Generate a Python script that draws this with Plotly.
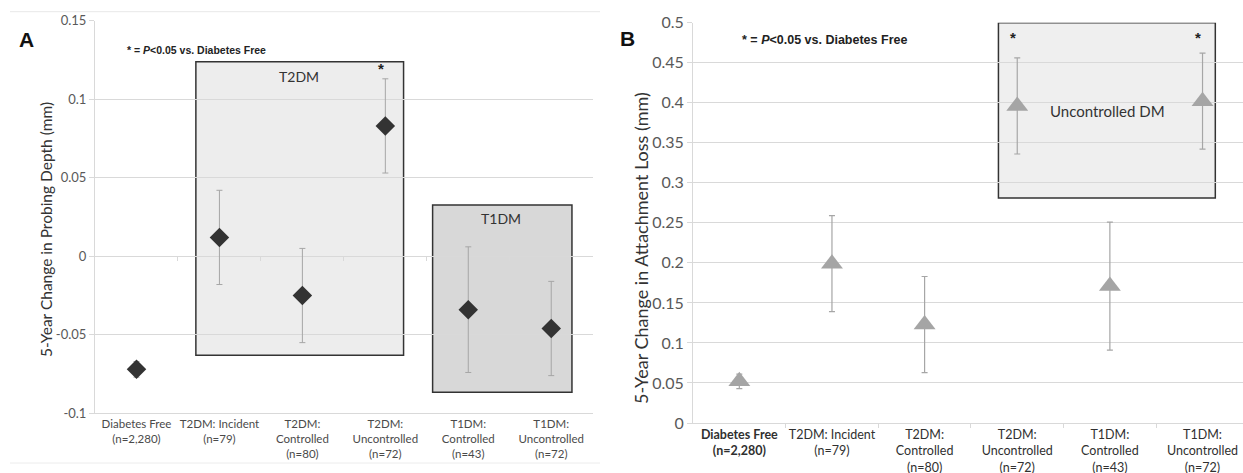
import plotly.graph_objects as go

# ---------------- data ----------------
categories = ["Diabetes Free<br>(n=2,280)", "T2DM: Incident<br>(n=79)",
              "T2DM:<br>Controlled<br>(n=80)", "T2DM:<br>Uncontrolled<br>(n=72)",
              "T1DM:<br>Controlled<br>(n=43)", "T1DM:<br>Uncontrolled<br>(n=72)"]
x_idx = list(range(len(categories)))

pd_change = [-0.072, 0.012, -0.025, 0.083, -0.034, -0.046]
pd_err = [0.005, 0.030, 0.030, 0.030, 0.040, 0.030]

cal_change = [0.052, 0.199, 0.123, 0.396, 0.171, 0.402]
cal_err = [0.009, 0.060, 0.060, 0.060, 0.080, 0.060]

a_yticks = [-0.1, -0.05, 0, 0.05, 0.1, 0.15]
a_yticktext = ["-0.1", "-0.05", "0", "0.05", "0.1", "0.15"]
b_yticks = [0, 0.05, 0.1, 0.15, 0.2, 0.25, 0.3, 0.35, 0.4, 0.45, 0.5]
b_yticktext = ["0", "0.05", "0.1", "0.15", "0.2", "0.25", "0.3", "0.35", "0.4", "0.45", "0.5"]
boundaries = [0.5, 1.5, 2.5, 3.5, 4.5]

a_sig = [3]
b_sig = [3, 5]

W, H = 1243, 473
GRID = "#d9d9d9"
TICKC = "#595959"

fig = go.Figure()

fig.add_trace(go.Scatter(
    x=x_idx, y=pd_change, mode="markers", xaxis="x", yaxis="y",
    marker=dict(symbol="diamond", size=15, color="#333333"),
    error_y=dict(type="data", array=pd_err, color="#a6a6a6", thickness=1, width=3),
    showlegend=False, hoverinfo="skip"))

fig.add_trace(go.Scatter(
    x=x_idx, y=cal_change, mode="markers", xaxis="x2", yaxis="y2",
    marker=dict(symbol="triangle-up", size=19, color="#a5a5a5"),
    error_y=dict(type="data", array=cal_err, color="#a6a6a6", thickness=1.2, width=3),
    showlegend=False, hoverinfo="skip"))

fig.add_trace(go.Scatter(x=[], y=[], xaxis="x3", yaxis="y", showlegend=False, hoverinfo="skip"))
fig.add_trace(go.Scatter(x=[], y=[], xaxis="x4", yaxis="y2", showlegend=False, hoverinfo="skip"))

a_xdom = [95 / W, 592.7 / W]
a_ydom = [1 - 413.3 / H, 1 - 20.7 / H]
b_xdom = [693 / W, 1.0]
b_ydom = [1 - 423 / H, 1 - 22.7 / H]
a_yrange = [-0.1, 0.15]
b_xmax = (W - 739) / 92.7
zero_pos = a_ydom[0] + (0 - a_yrange[0]) / (a_yrange[1] - a_yrange[0]) * (a_ydom[1] - a_ydom[0])

FONT = "Lato, Open Sans, sans-serif"
tickfont_cat_a = dict(family=FONT, size=11.5, color="#4a4a4a")
tickfont_cat_b = dict(family=FONT, size=12.5, color="#303030")

fig.update_layout(
    template="none",
    width=W, height=H, margin=dict(l=0, r=0, t=0, b=0, autoexpand=False),
    paper_bgcolor="white", plot_bgcolor="rgba(0,0,0,0)",
    xaxis=dict(domain=a_xdom, range=[-0.5, 5.5], tickvals=x_idx, ticktext=categories,
               showgrid=False, zeroline=False, showline=True, linecolor=GRID, linewidth=1,
               ticks="", tickfont=tickfont_cat_a, anchor="y", fixedrange=True, automargin=False),
    yaxis=dict(domain=a_ydom, range=a_yrange, tickvals=a_yticks, ticktext=a_yticktext,
               showgrid=True, gridcolor=GRID, gridwidth=1, zeroline=False,
               showline=True, linecolor=GRID, ticks="outside", ticklen=5, tickcolor=GRID,
               tickfont=dict(family=FONT, size=13, color=TICKC),
               anchor="x", fixedrange=True, automargin=False),
    xaxis3=dict(overlaying="x", anchor="free", position=zero_pos, range=[-0.5, 5.5],
                tickvals=boundaries, showticklabels=False, ticks="outside", ticklen=4,
                tickcolor=GRID, showgrid=False, zeroline=False, showline=False,
                fixedrange=True, automargin=False),
    xaxis2=dict(domain=b_xdom, range=[-0.5, b_xmax], tickvals=x_idx,
                ticktext=["<b>" + c + "</b>" if i == 0 else c for i, c in enumerate(categories)],
                showgrid=False, zeroline=False, showline=True, linecolor=GRID, linewidth=1,
                ticks="", tickfont=tickfont_cat_b, anchor="y2", fixedrange=True, automargin=False),
    yaxis2=dict(domain=b_ydom, range=[0, 0.5], tickvals=b_yticks, ticktext=b_yticktext,
                showgrid=True, gridcolor=GRID, gridwidth=1, zeroline=False,
                showline=True, linecolor=GRID, ticks="outside", ticklen=5, tickcolor=GRID,
                tickfont=dict(family=FONT, size=16, color=TICKC),
                anchor="x2", fixedrange=True, automargin=False),
    xaxis4=dict(overlaying="x2", anchor="y2", range=[-0.5, b_xmax],
                tickvals=boundaries, showticklabels=False, ticks="outside", ticklen=4,
                tickcolor=GRID, showgrid=False, zeroline=False, showline=False,
                fixedrange=True, automargin=False),
)

# ---- boxes (panel A) ----
fig.add_shape(type="rect", xref="x", yref="y", x0=0.716, x1=3.22, y0=-0.063, y1=0.1238,
              line=dict(color="#333333", width=1.5), fillcolor="rgba(225,225,225,0.6)", layer="below")
fig.add_shape(type="rect", xref="x", yref="y", x0=3.57, x1=5.25, y0=-0.0866, y1=0.0326,
              line=dict(color="#333333", width=1.5), fillcolor="rgba(200,200,200,0.7)", layer="below")
# ---- box (panel B) ----
fig.add_shape(type="rect", xref="x2", yref="y2", x0=2.797, x1=5.138, y0=0.281, y1=0.5,
              line=dict(color="#333333", width=1.5), fillcolor="rgba(225,225,225,0.55)", layer="below")

# separator lines (panel A)
fig.add_shape(type="line", xref="paper", yref="paper", x0=10 / W, x1=600 / W,
              y0=1 - 11.7 / H, y1=1 - 11.7 / H, line=dict(color="#e8e8e8", width=1))
fig.add_shape(type="line", xref="paper", yref="paper", x0=10 / W, x1=600 / W,
              y0=1 - 463 / H, y1=1 - 463 / H, line=dict(color="#ececec", width=1))

note = "<b>* = <i>P</i>&lt;0.05 vs. Diabetes Free</b>"
ann_font = dict(family="Liberation Sans, Arial, sans-serif", size=10.5, color="#222222")

fig.add_annotation(xref="x", yref="y", x=-0.14, y=0.1313, text=note, showarrow=False,
                   xanchor="left", yanchor="middle", font=ann_font)
fig.add_annotation(xref="x2", yref="y2", x=0.01, y=0.478, text=note, showarrow=False,
                   xanchor="left", yanchor="middle", font=dict(ann_font, size=12.5))

fig.add_annotation(xref="x", yref="y", x=1.955, y=0.1147, text="T2DM", showarrow=False,
                   font=dict(family=FONT, size=14, color="#333333"))
fig.add_annotation(xref="x", yref="y", x=4.40, y=0.024, text="T1DM", showarrow=False,
                   font=dict(family=FONT, size=14, color="#333333"))
fig.add_annotation(xref="x2", yref="y2", x=3.97, y=0.39, text="Uncontrolled DM", showarrow=False,
                   font=dict(family=FONT, size=15, color="#333333"))

for i in a_sig:
    fig.add_annotation(xref="x", yref="y", x=x_idx[i] - 0.05, y=0.1195, text="<b>*</b>",
                       showarrow=False, font=dict(family="Liberation Sans, Arial", size=15, color="#222"))
for i in b_sig:
    fig.add_annotation(xref="x2", yref="y2", x=x_idx[i] - 0.05, y=0.481, text="<b>*</b>",
                       showarrow=False, font=dict(family="Liberation Sans, Arial", size=15, color="#222"))

# panel letters
fig.add_annotation(xref="paper", yref="paper", x=17 / W, y=1 - 26 / H, text="<b>A</b>",
                   showarrow=False, font=dict(family="Liberation Sans, Arial", size=21, color="#111"))
fig.add_annotation(xref="paper", yref="paper", x=627 / W, y=1 - 25 / H, text="<b>B</b>",
                   showarrow=False, font=dict(family="Liberation Sans, Arial", size=21, color="#111"))

# axis titles
fig.add_annotation(xref="paper", yref="paper", x=35 / W, y=1 - 230 / H, textangle=-90,
                   text="5-Year Change in Probing Depth (mm)", showarrow=False,
                   font=dict(family=FONT, size=15.5, color="#333333"))
fig.add_annotation(xref="paper", yref="paper", x=641 / W, y=1 - 248 / H, textangle=-90,
                   text="5-Year Change in Attachment Loss (mm)", showarrow=False,
                   font=dict(family=FONT, size=18, color="#333333"))

fig.write_html("out.html", config={"displayModeBar": False},
               post_script="document.body.style.margin='0';")
